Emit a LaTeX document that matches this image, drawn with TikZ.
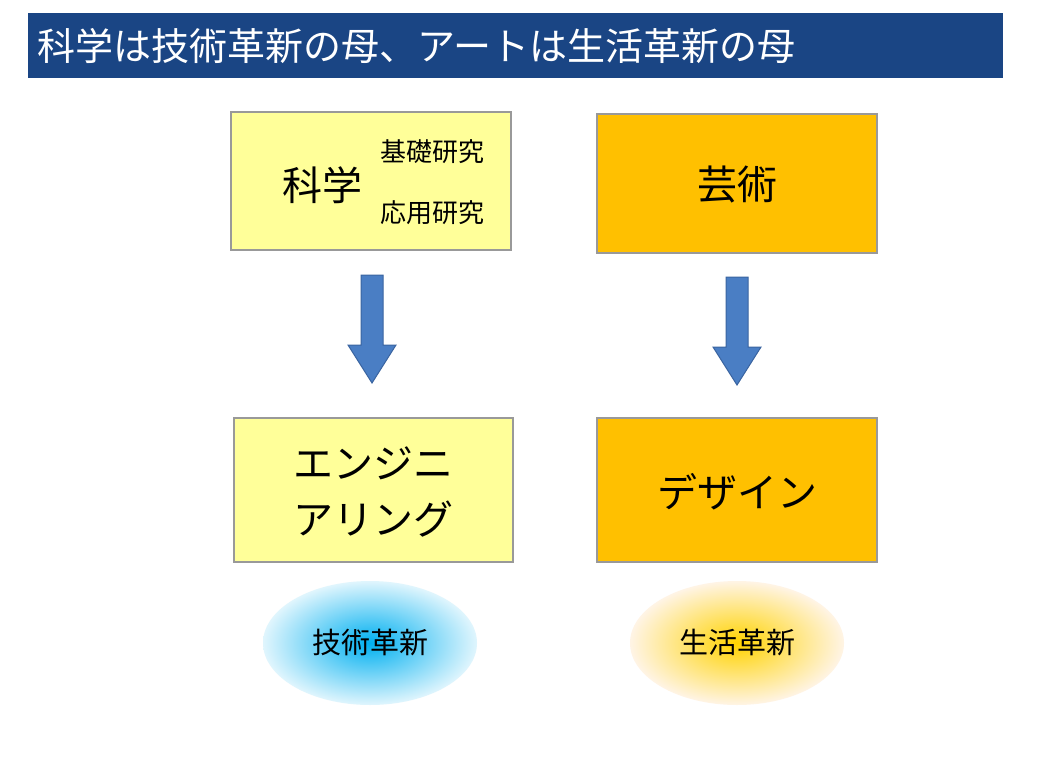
\documentclass[tikz,border=0pt]{standalone}
\usepackage{fontspec}
\setmainfont{Noto Sans CJK JP}
\usetikzlibrary{positioning, shapes.geometric}
\definecolor{titleblue}{HTML}{1A4584}
\definecolor{paleyel}{HTML}{FFFF99}
\definecolor{gold}{HTML}{FFC000}
\definecolor{arrblue}{HTML}{4A7EC4}
\definecolor{arredge}{HTML}{3A64A0}
\definecolor{skyblue}{HTML}{00B0F0}

\begin{document}
\begin{tikzpicture}[x=1pt, y=-1pt,
  box/.style={draw=gray!80, line width=1.2pt, inner sep=0pt},
  big/.style={font=\fontsize{40}{46}\selectfont},
  small/.style={font=\fontsize{26}{30}\selectfont},
  blob/.style={ellipse, minimum width=214pt, minimum height=124pt, shading=radial, font=\fontsize{29}{33}\selectfont}]

  \useasboundingbox (0,0) rectangle (1040,773);
  \fill[white] (0,0) rectangle (1040,773);

  % title
  \fill[titleblue] (28,13) rectangle (1003,78);
  \node[anchor=west, text=white, font=\fontsize{38}{44}\selectfont] (title) at (34,46) {科学は技術革新の母、アートは生活革新の母};

  % boxes
  \draw[box, fill=paleyel] (231,112) rectangle (511,250);
  \node[big] (sci) at (322,185) {科学};
  \node[small] (base) at (432,152) {基礎研究};
  \node[small] (appl) at (432,213) {応用研究};

  \draw[box, fill=gold] (597,114) rectangle (877,253);
  \node[big] (art) at (737,185) {芸術};

  \draw[box, fill=paleyel] (234,418) rectangle (513,562);
  \node[big, align=center, font=\fontsize{40}{56}\selectfont] (eng) at (373,492) {エンジニ\\アリング};

  \draw[box, fill=gold] (597,418) rectangle (877,562);
  \node[big] (des) at (737,492) {デザイン};

  % block arrows
  \foreach \cx/\top in {372/275, 737/277}{
    \draw[arredge, fill=arrblue, line width=1pt]
      (\cx-11,\top) -- (\cx+11,\top) -- (\cx+11,\top+70) -- (\cx+24,\top+70)
      -- (\cx,\top+108) -- (\cx-24,\top+70) -- (\cx-11,\top+70) -- cycle;
  }

  % innovation blobs
  \node[blob, inner color=skyblue, outer color=skyblue!12] (tech) at (370,643) {技術革新};
  \node[blob, inner color=gold!70!yellow, outer color=yellow!15!orange!10] (life) at (737,643) {生活革新};
\end{tikzpicture}
\end{document}
